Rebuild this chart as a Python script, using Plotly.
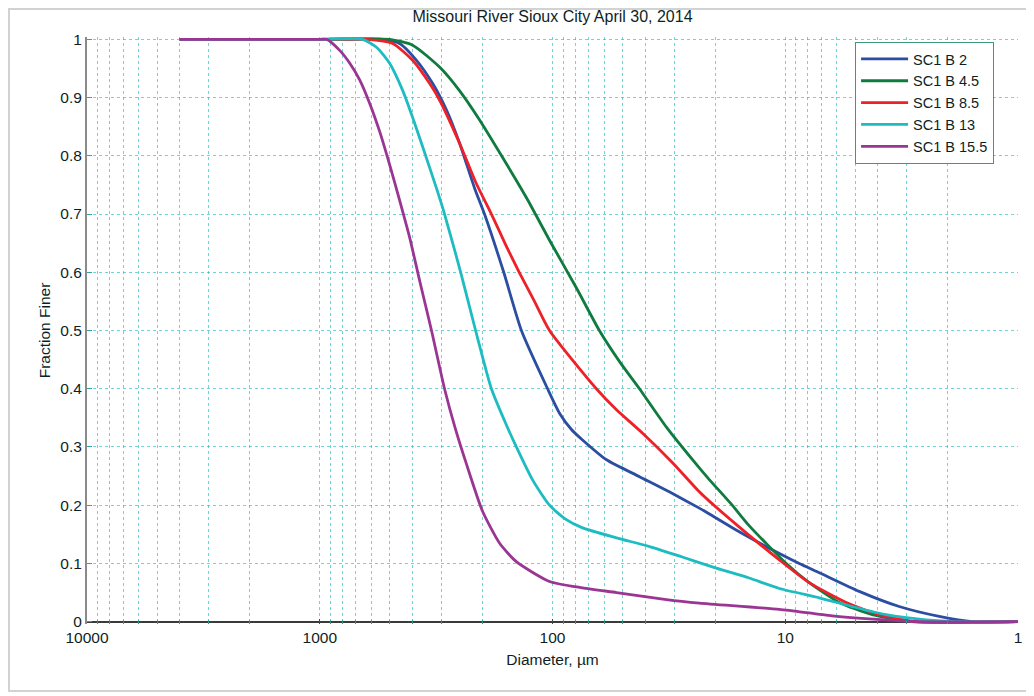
import plotly.graph_objects as go

# Diameter (µm) and fraction finer for each sample
d_b2 = [4000, 1000, 537, 454, 384, 327, 285, 251, 216, 196, 162, 136, 105, 93.3, 82.9, 74.3, 58.6,
        42.3, 31.5, 23.4, 21.2, 15.7, 10.6, 8.71, 7.14, 4.81, 3.24, 2.18, 1.57, 1]
f_b2 = [1, 1, 1, 0.993, 0.964, 0.924, 0.878, 0.822, 0.744, 0.70, 0.60, 0.50, 0.40, 0.358, 0.33, 0.312, 0.278,
        0.249, 0.223, 0.195, 0.185, 0.154, 0.117, 0.10, 0.084, 0.052, 0.026, 0.009, 0, 0]

d_b45 = [4000, 1000, 501, 399, 305, 251, 206, 165.5, 129, 103, 78.9, 62.9, 51.6, 42.3, 32.4, 23.4,
         21.2, 16.9, 14.3, 9.9, 7.89, 5.86, 4.23, 2.85, 1]
f_b45 = [1, 1, 1, 0.99, 0.952, 0.912, 0.862, 0.80, 0.727, 0.655, 0.573, 0.50, 0.447, 0.40, 0.334, 0.264,
         0.244, 0.20, 0.165, 0.10, 0.067, 0.033, 0.012, 0, 0]

d_b85 = [4000, 1000, 629, 486, 399, 337, 305, 251, 214, 183, 158, 139, 119.5, 103, 64.8, 53.1, 41.1,
         30.5, 23.4, 21.2, 15.7, 10.6, 7.89, 5.47, 3.95, 2.74, 1]
f_b85 = [1, 1, 1, 0.993, 0.964, 0.924, 0.895, 0.822, 0.755, 0.70, 0.645, 0.60, 0.55, 0.50, 0.40, 0.364,
         0.324, 0.273, 0.223, 0.207, 0.162, 0.106, 0.067, 0.033, 0.012, 0, 0]

d_b13 = [4000, 1000, 654, 569, 501, 440, 399, 361, 315, 291, 248, 214, 183, 160.7, 143, 122, 103,
         87.9, 74.3, 53.1, 38.3, 27.7, 19.8, 14.3, 10.6, 7.14, 5.16, 3.69, 2.48, 1.79, 1]
f_b13 = [1, 1, 1, 0.986, 0.959, 0.912, 0.866, 0.815, 0.744, 0.70, 0.60, 0.50, 0.40, 0.345, 0.30, 0.244, 0.20,
         0.176, 0.161, 0.144, 0.129, 0.111, 0.092, 0.075, 0.057, 0.041, 0.026, 0.012, 0.003, 0, 0]

d_b155 = [4000, 1000, 933, 821, 743, 673, 610, 553, 501, 454, 411, 372, 331, 291, 263, 234,
          200, 169, 143, 103, 74.3, 53.1, 32.4, 23.4, 10.6, 6.29, 3.69, 2.66, 1]
f_b155 = [1, 1, 1, 0.981, 0.959, 0.93, 0.89, 0.842, 0.785, 0.724, 0.66, 0.585, 0.50, 0.40, 0.335, 0.27,
          0.19, 0.135, 0.103, 0.069, 0.058, 0.05, 0.038, 0.032, 0.021, 0.010, 0.003, 0, 0]

names = ["SC1 B 2", "SC1 B 4.5", "SC1 B 8.5", "SC1 B 13", "SC1 B 15.5"]
colors = ["#2b4ea2", "#0f7b3e", "#ee2028", "#1cbcc0", "#9b3594"]
series = [(d_b2, f_b2), (d_b45, f_b45), (d_b85, f_b85), (d_b13, f_b13), (d_b155, f_b155)]

x_ticks = [10000, 1000, 100, 10, 1]
x_ticktext = ["10000", "1000", "100", "10", "1"]

FONT = "Liberation Sans, Arial, sans-serif"
GRID = "rgba(20,185,185,0.6)"
TXT = "#0d1f1f"

# page body adds an 8px margin; the figure is sized so it fits the window
W, H = 1026, 688
L, R, T, B = 79, 16, 29, 72
PW, PH = W - L - R, H - T - B

fig = go.Figure()
for (d, f), n, c in zip(series, names, colors):
    fig.add_trace(go.Scatter(x=d, y=f, name=n, mode="lines",
                             line=dict(color=c, width=2.8, shape="spline", smoothing=0.6)))

fig.update_layout(
    width=W, height=H,
    margin=dict(l=L, r=R, t=T, b=B, autoexpand=False),
    paper_bgcolor="white", plot_bgcolor="white",
    font=dict(family=FONT, size=16, color=TXT),
    title=dict(text="Missouri River Sioux City April 30, 2014", x=0.5, xref="paper",
               y=1 - 8 / H, yref="container", yanchor="middle",
               font=dict(family=FONT, size=16, color=TXT)),
    showlegend=True,
    legend=dict(x=0.825, y=0.9915, xanchor="left", yanchor="top",
                bgcolor="white", bordercolor="#3c9a78", borderwidth=1,
                font=dict(family=FONT, size=14.5, color=TXT),
                itemwidth=47, tracegroupgap=0),
)

fig.update_xaxes(
    type="log", range=[4, 0], automargin=False,
    tickmode="array", tickvals=x_ticks, ticktext=x_ticktext,
    showgrid=True, gridcolor=GRID, griddash="dot", gridwidth=1,
    minor=dict(tickmode="array",
               tickvals=[m * 10 ** e for e in range(0, 4) for m in range(2, 10)],
               showgrid=True, gridcolor=GRID, griddash="dot", gridwidth=1,
               ticks="inside", ticklen=4, tickcolor="#2a9a8a"),
    ticks="inside", ticklen=5, tickcolor="#444",
    ticklabelstandoff=2,
    showline=False, zeroline=False,
    tickfont=dict(family=FONT, size=15.5, color=TXT),
    title=dict(text="Diameter, \u00b5m", standoff=9,
               font=dict(family=FONT, size=15.5, color=TXT)),
)

fig.update_yaxes(
    range=[-0.004, 1.004], tick0=0, dtick=0.1, automargin=False,
    showgrid=True, gridcolor=GRID, griddash="dot", gridwidth=1,
    zeroline=True, zerolinecolor="#3a3a3a", zerolinewidth=1.5,
    showline=True, linecolor="#8a8a8a", linewidth=2,
    ticks="inside", ticklen=5, tickcolor="#2aa8a8",
    tickfont=dict(family=FONT, size=15.5, color=TXT),
    title=dict(text="Fraction Finer", standoff=6,
               font=dict(family=FONT, size=15.5, color=TXT)),
)

fig.add_shape(type="rect", xref="paper", yref="paper",
              x0=(1 - L) / PW, x1=(1021 - L) / PW,
              y0=(PH + T - 683) / PH, y1=(PH + T - 1) / PH,
              line=dict(color="#d2d2d2", width=2), fillcolor="rgba(0,0,0,0)", layer="below")

fig.write_html("out.html")
